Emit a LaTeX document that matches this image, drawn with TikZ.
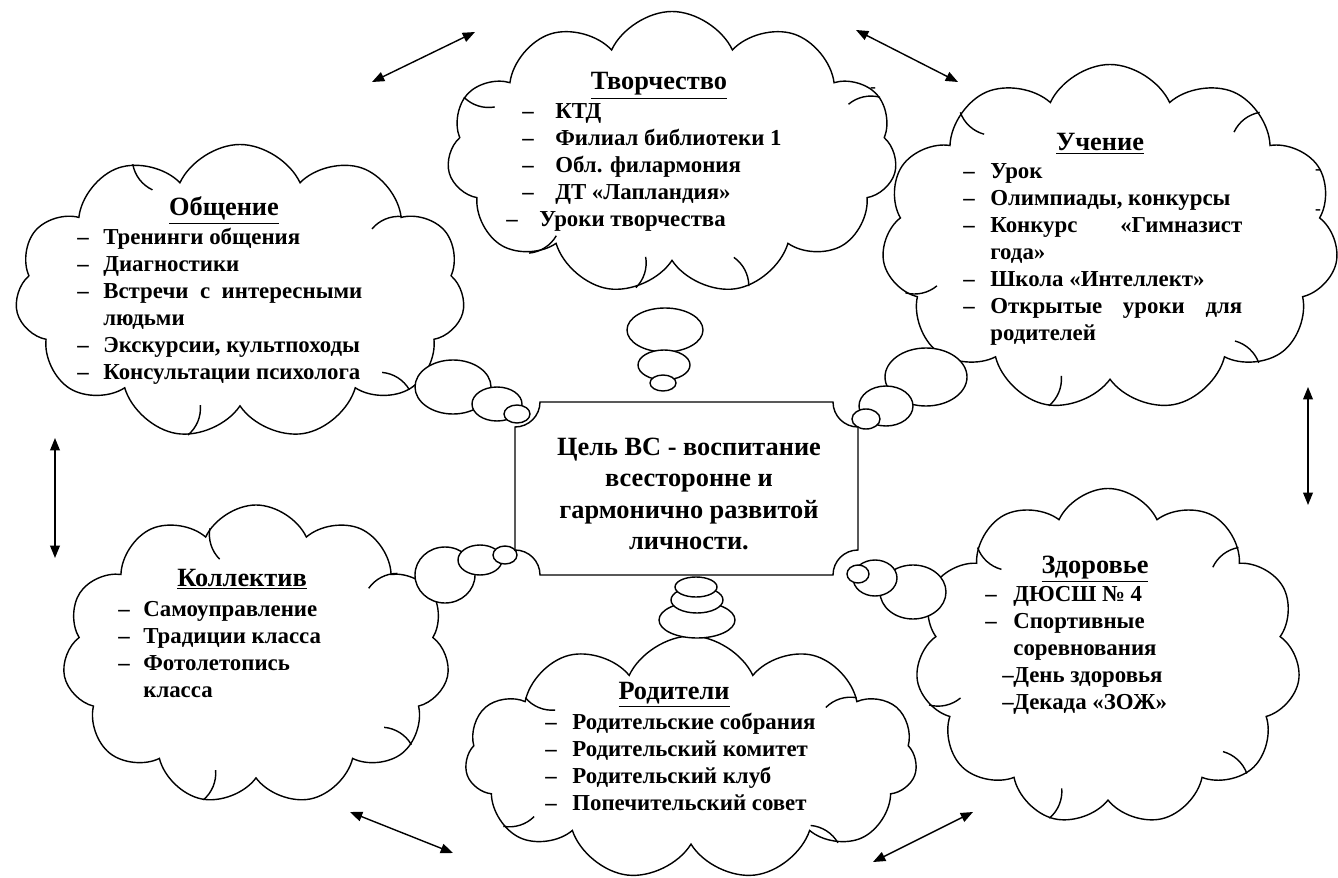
\documentclass[tikz,border=0pt]{standalone}
\usepackage{fontspec}
\setmainfont{Liberation Serif}
\usetikzlibrary{shapes.symbols,arrows.meta}
% 1px of the sketch = 0.02cm
\newlength\px
\setlength\px{0.02cm}
\newcommand\itm[2][27]{\par\hangindent=#1\px\hangafter=1\noindent\makebox[#1\px][l]{–}#2}
\newcommand\itmat[3]{\par\noindent\hspace*{#1\px}\makebox[#2\px][l]{–}#3}
\tikzset{
  cloudbox/.style={cloud, draw, fill=white, line width=0.8pt, cloud puffs=11,
    cloud puff arc=130, cloud ignores aspect, inner sep=0pt},
  innerarc/.style={line width=0.8pt},
  bubble/.style={draw, fill=white, line width=0.8pt},
  plaque/.style={draw, fill=white, line width=0.8pt},
  head/.style={font=\fontsize{15}{18}\selectfont\bfseries, anchor=base, inner sep=0pt},
  items/.style={font=\fontsize{13}{15.4}\selectfont\bfseries, anchor=base west,
    inner sep=0pt, align=justify},
  goaltext/.style={font=\fontsize{15}{18}\selectfont\bfseries, align=center, inner sep=0pt},
  stray/.style={font=\fontsize{10}{12}\selectfont\bfseries, inner sep=0pt},
  twoway/.style={{Triangle[length=7pt,width=5.5pt]}-{Triangle[length=7pt,width=5.5pt]},
    line width=0.8pt},
}
\begin{document}
\begin{tikzpicture}[x=0.02cm, y=-0.02cm]
\useasboundingbox (0,0) rectangle (1338,878);
% clouds
\node[cloudbox, minimum width=450\px, minimum height=283\px] (tvorch) at (672,153) {};
\node[cloudbox, minimum width=450\px, minimum height=295\px] (obsch) at (240,292) {};
\node[cloudbox, minimum width=457\px, minimum height=347\px] (uchen) at (1110,238) {};
\node[cloudbox, minimum width=387\px, minimum height=300\px] (kollek) at (256,655) {};
\node[cloudbox, minimum width=385\px, minimum height=337\px] (zdorov) at (1108,657) {};
\node[cloudbox, minimum width=452\px, minimum height=244\px] (rodit) at (691,758) {};
% short inner strokes of the clouds (page angles)
\begin{scope}[y=0.02cm]
\foreach \n/\a in {tvorch/15, tvorch/165, tvorch/215, tvorch/255, tvorch/300,
  obsch/25, obsch/130, obsch/250, obsch/330,
  uchen/40, uchen/140, uchen/195, uchen/250, uchen/320,
  kollek/30, kollek/110, kollek/250, kollek/330,
  zdorov/40, zdorov/140, zdorov/195, zdorov/250, zdorov/320,
  rodit/20, rodit/160, rodit/200, rodit/330}
  \draw[innerarc] (\n.\a) arc[start angle=\a+60, delta angle=55, radius=35];
\end{scope}
% thought bubbles, big to small
\foreach \cx/\cy/\rx/\ry in {
  665/330/38/22, 664/365/26/15, 663/383/13/8,
  453/387/38/27, 497/404/25/17, 517/414/13/9,
  926/377/41/29, 886/406/27/20, 866/419/14/10,
  445/575/30/28, 480/560/22/15, 505/555/12/9,
  913/592/33/27, 875/578/22/18, 858/574/11/9,
  697/620/38/18, 697/600/26/13, 696/587/21/10}
  \draw[bubble] (\cx,\cy) ellipse [x radius=\rx, y radius=\ry];
% goal plaque
\draw[plaque] (540,402) -- (833,402) arc[start angle=180, end angle=90, radius=25]
  -- (858,550) arc[start angle=270, end angle=180, radius=25]
  -- (540,575) arc[start angle=0, end angle=-90, radius=25]
  -- (515,427) arc[start angle=90, end angle=0, radius=25] -- cycle;
\node[goaltext] (goal) at (689,494) {Цель ВС - воспитание\\всесторонне и\\гармонично развитой\\личности.};
% headings
\node[head] (tvorchhead) at (659,90) {\underline{Творчество}};
\node[head] (obschhead) at (224,216) {\underline{Общение}};
\node[head] (uchenhead) at (1100,151) {\underline{Учение}};
\node[head] (kollekhead) at (242,586) {\underline{Коллектив}};
\node[head] (zdorovhead) at (1095,573) {\underline{Здоровье}};
\node[head] (rodithead) at (674,699) {\underline{Родители}};
% lists (26 = shift of the first line)
\node[items, text width=300\px] (tvorchlist) at (522,91) {\itm[33]{КТД}\itm[33]{Филиал библиотеки 1}%
  \itm[33]{Обл. филармония}\itm[33]{ДТ «Лапландия»}\itmat{-16}{33}{Уроки творчества}\par};
\node[items, text width=285\px] (obschlist) at (77,217) {\itm[26]{Тренинги общения}\itm[26]{Диагностики}%
  \itm[26]{Встречи с интересными\linebreak людьми}\itm[26]{Экскурсии, культпоходы}%
  \itm[26]{Консультации психолога}\par};
\node[items, text width=279\px] (uchenlist) at (963,151) {\itm{Урок}\itm{Олимпиады, конкурсы}%
  \itm{Конкурс «Гимназист\linebreak года»}\itm{Школа «Интеллект»}\itm{Открытые уроки для\linebreak родителей}\par};
\node[items, text width=230\px] (kollektlist) at (118,589) {\itm[25]{Самоуправление}\itm[25]{Традиции класса}%
  \itm[25]{Фотолетопись\newline класса}\par};
\node[items, text width=230\px] (zdorovlist) at (985,574) {\itm[28]{ДЮСШ № 4}\itm[28]{Спортивные\newline соревнования}%
  \itmat{17}{11}{День здоровья}\itmat{17}{11}{Декада «ЗОЖ»}\par};
\node[items, text width=330\px] (roditlist) at (545,702) {\itm{Родительские собрания}\itm{Родительский комитет}%
  \itm{Родительский клуб}\itm{Попечительский совет}\par};
% stray marks
\node[stray] (mark1) at (873,90) {-};
\node[stray] (mark2) at (1318,172) {-};
\node[stray] (mark3) at (1318,212) {-};
% arrows between the spheres
\coordinate (a1) at (372,82);   \coordinate (b1) at (475,32);
\coordinate (a2) at (856,30);   \coordinate (b2) at (958,82);
\coordinate (a3) at (55,438);   \coordinate (b3) at (55,558);
\coordinate (a4) at (1308,387); \coordinate (b4) at (1308,505);
\coordinate (a5) at (350,812);  \coordinate (b5) at (453,853);
\coordinate (a6) at (873,862);  \coordinate (b6) at (973,812);
\foreach \i in {1,...,6}
  \draw[twoway] (a\i) -- (b\i);
\end{tikzpicture}
\end{document}
